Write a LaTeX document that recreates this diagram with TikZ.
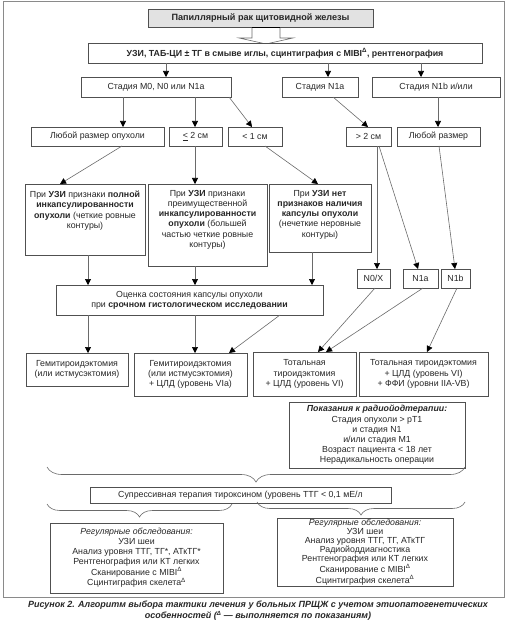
\documentclass[tikz,border=0pt]{standalone}
\usepackage{fontspec}
\setmainfont{Liberation Sans}
\usetikzlibrary{arrows.meta,decorations.pathreplacing,calc}
\definecolor{boxc}{HTML}{505050}
\definecolor{linec}{HTML}{6A6A6A}
\definecolor{framec}{HTML}{8A8A8A}
\definecolor{titlefill}{HTML}{E2E2E2}
\definecolor{textc}{HTML}{262626}
\newcommand\placebox[7][]{\node[box,#1,anchor=north west,minimum width={#5-#3},minimum height={#6-#4}] (#2) at (#3,#4) {#7};}
\newcommand\dl{\textsuperscript{Δ}}
\begin{document}
\begin{tikzpicture}[x=1pt,y=-1pt,
  box/.style={draw=boxc,text=textc,line width=0.8pt,rectangle,inner sep=0pt,outer sep=0pt,align=center,font=\fontsize{8.8}{10.2}\selectfont},
  txt/.style={inner sep=0pt,text=textc,align=center,font=\fontsize{8.8}{10.2}\selectfont},
  arr/.style={draw=linec,line width=0.6pt,-{Triangle[length=6pt,width=6pt,color=black]}},
  brc/.style={draw=linec,line width=0.6pt,decorate},
]
\useasboundingbox (0,0) rectangle (510,620);
\draw[framec,line width=0.8pt] (3,1.5) rectangle (504.5,597);

% hollow arrow under the title
\draw[linec,line width=0.6pt,fill=white] (252,27) -- (252,38) -- (239,38) -- (266,44) -- (293,38) -- (280,38) -- (280,27);

\placebox[fill=titlefill,font=\fontsize{9.1}{11}\selectfont]{title}{148}{9}{373}{27}{\bfseries Папиллярный рак щитовидной железы}
\draw[black,line width=1.6pt] (252,27.5) -- (280,27.5);
\placebox[fill=white]{tests}{88}{43}{482}{63}{\bfseries УЗИ, ТАБ-ЦИ ± ТГ в смыве иглы, сцинтиграфия с MIBI\dl, рентгенография}

\placebox{m0}{81}{77}{231}{97}{Стадия M0, N0 или N1a}
\placebox{na}{282}{77}{358}{97}{Стадия N1a}
\placebox{nb}{372}{77}{500}{97}{Стадия N1b и/или}

\placebox{anyA}{31}{127}{164}{146}{Любой размер опухоли}
\placebox{le}{169}{127}{222}{146}{\underline{<} 2 см}
\placebox{lt}{228}{127}{282}{146}{< 1 см}
\placebox{gt}{346}{127}{391}{146}{> 2 см}
\placebox{anyB}{397}{127}{480}{146}{Любой размер}

\placebox{bA}{25}{184}{145}{255}{}
\placebox{bB}{148}{184}{267}{266}{}
\placebox{bC}{269}{184}{371}{252}{}
\node[txt,anchor=north] (tA) at ($(bA.north)+(0,7)$) {При \textbf{УЗИ} признаки \textbf{полной}\\\textbf{инкапсулированности}\\\textbf{опухоли} (четкие ровные\\контуры)};
\node[txt,anchor=north] (tB) at ($(bB.north)+(0,6)$) {При \textbf{УЗИ} признаки\\преимущественной\\\textbf{инкапсулированности}\\\textbf{опухоли} (большей\\частью четкие ровные\\контуры)};
\node[txt,anchor=north] (tC) at ($(bC.north)+(0,6)$) {При \textbf{УЗИ нет}\\\textbf{признаков наличия}\\\textbf{капсулы опухоли}\\(нечеткие неровные\\контуры)};

\placebox{n0x}{357}{269}{390}{288}{N0/X}
\placebox{n1a}{403}{269}{438}{288}{N1a}
\placebox{n1b}{441}{269}{470}{288}{N1b}

\placebox{eval}{56}{285}{323}{315}{Оценка состояния капсулы опухоли\\при \textbf{срочном гистологическом исследовании}}

\placebox{h1}{26}{353}{128}{386}{Гемитироидэктомия\\(или истмусэктомия)}
\placebox{h2}{134}{353}{247}{396}{Гемитироидэктомия\\(или истмусэктомия)\\+ ЦЛД (уровень VIa)}
\placebox{t1}{253}{352}{356}{396}{Тотальная\\тироидэктомия\\+ ЦЛД (уровень VI)}
\placebox{t2}{359}{352}{488}{396}{Тотальная тироидэктомия\\+ ЦЛД (уровень VI)\\+ ФФИ (уровни IIA-VB)}

\placebox{radio}{289}{402}{465}{468}{\textbf{\textit{Показания к радиойодтерапии:}}\\Стадия опухоли > pT1\\и стадия N1\\и/или стадия M1\\Возраст пациента < 18 лет\\Нерадикальность операции}

\placebox{supp}{90}{487}{391}{503}{Супрессивная терапия тироксином (уровень ТТГ < 0,1 мЕ/л}

\placebox[font=\fontsize{8.8}{9.8}\selectfont]{reg1}{50}{523}{223}{593}{\textit{Регулярные обследования:}\\УЗИ шеи\\Анализ уровня ТТГ, ТГ*, АТкТГ*\\Рентгенография или КТ легких\\Сканирование с MIBI\dl\\Сцинтиграфия скелета\dl}
\placebox[font=\fontsize{8.8}{9.1}\selectfont]{reg2}{277}{518}{453}{586}{\textit{Регулярные обследования:}\\УЗИ шеи\\Анализ уровня ТТГ, ТГ, АТкТГ\\Радиойоддиагностика\\Рентгенография или КТ легких\\Сканирование с MIBI\dl\\Сцинтиграфия скелета\dl}

% braces
\draw[brc,decoration={brace,amplitude=15pt}] (465,467) -- (47,467);
\draw[brc,decoration={brace,amplitude=13pt}] (232,504) -- (47,504);
\draw[brc,decoration={brace,amplitude=13pt}] (465,502) -- (257,502);

% connectors
\draw[arr] ([xshift=78pt]tests.south west) -- ([xshift=85pt]m0.north west);
\draw[arr] ([xshift=240pt]tests.south west) -- ([xshift=46pt]na.north west);
\draw[arr] ([xshift=333pt]tests.south west) -- ([xshift=49pt]nb.north west);
\draw[arr] ([xshift=42pt]m0.south west) -- ([xshift=92pt]anyA.north west);
\draw[arr] ([xshift=114pt]m0.south west) -- ([xshift=26pt]le.north west);
\draw[arr] ([xshift=148pt]m0.south west) -- ([xshift=24pt]lt.north west);
\draw[arr] ([xshift=51pt]na.south west) -- ([xshift=22pt]gt.north west);
\draw[arr] ([xshift=66pt]nb.south west) -- ([xshift=41pt]anyB.north west);
\draw[arr] ([xshift=91pt]anyA.south west) -- ([xshift=35pt]bA.north west);
\draw[arr] ([xshift=26pt]le.south west) -- ([xshift=47pt]bB.north west);
\draw[arr] ([xshift=37pt]lt.south west) -- ([xshift=49pt]bC.north west);
\draw[arr] ([xshift=31pt]gt.south west) -- ([xshift=20pt]n0x.north west);
\draw[arr] ([xshift=33pt]gt.south west) -- ([xshift=15pt]n1a.north west);
\draw[arr] ([xshift=42pt]anyB.south west) -- ([xshift=14pt]n1b.north west);
\draw[arr] ([xshift=63pt]bA.south west) -- ([xshift=32pt]eval.north west);
\draw[arr] ([xshift=47pt]bB.south west) -- ([xshift=139pt]eval.north west);
\draw[arr] ([xshift=43pt]bC.south west) -- ([xshift=256pt]eval.north west);
\draw[arr] ([xshift=32pt]eval.south west) -- ([xshift=62pt]h1.north west);
\draw[arr] ([xshift=139pt]eval.south west) -- ([xshift=61pt]h2.north west);
\draw[arr] ([xshift=224pt]eval.south west) -- ([xshift=95pt]h2.north west);
\draw[arr] ([xshift=18pt]n0x.south west) -- ([xshift=65pt]t1.north west);
\draw[arr] ([xshift=20pt]n1a.south west) -- ([xshift=73pt]t1.north west);
\draw[arr] ([xshift=16pt]n1b.south west) -- ([xshift=68pt]t2.north west);

% caption
\node[inner sep=0pt,text=textc,align=center,font=\fontsize{9}{11}\selectfont\bfseries\itshape] (cap) at (258,611) {Рисунок 2. Алгоритм выбора тактики лечения у больных ПРЩЖ с учетом этиопатогенетических\\особенностей (\textsuperscript{Δ} — выполняется по показаниям)};
\end{tikzpicture}
\end{document}
